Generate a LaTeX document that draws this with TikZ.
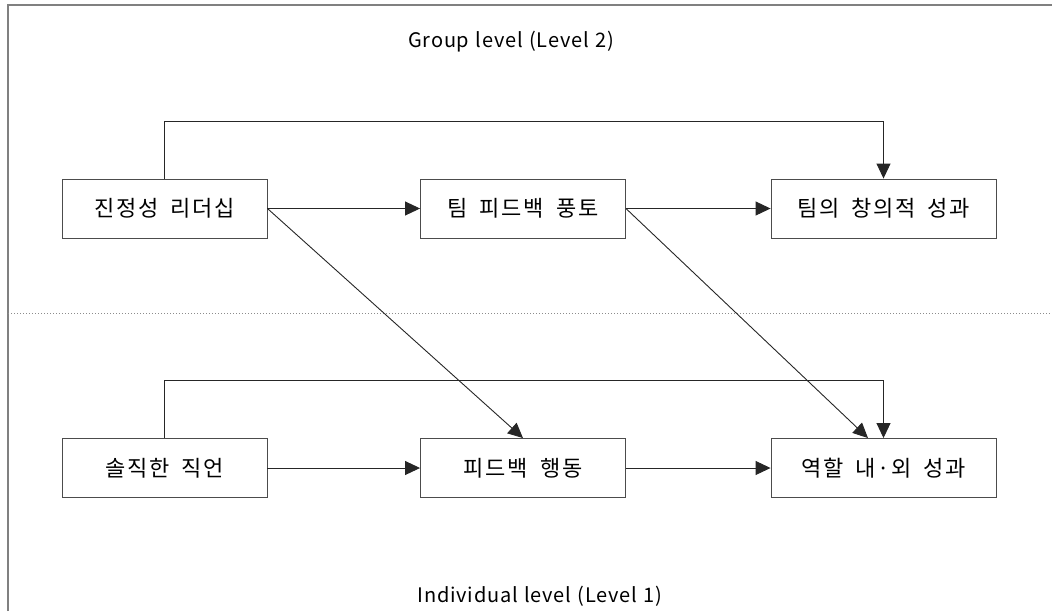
\documentclass[tikz,border=0pt]{standalone}
\usepackage{fontspec}
\setmainfont{Noto Sans CJK KR}[LetterSpace=8,WordSpace=1.8]
\newfontfamily\lvlfont{Noto Sans CJK KR}[LetterSpace=4,WordSpace=1.2]
\usetikzlibrary{arrows.meta}
\tikzset{
  box/.style={draw=black!70, line width=0.9pt, minimum width=205pt, minimum height=59pt, inner sep=0pt, font=\fontsize{22}{26}\selectfont},
  wbox/.style={box, minimum width=225pt},
  conn/.style={draw=black!85, line width=0.9pt, -{Triangle[length=15pt,width=14pt]}},
  lvl/.style={font=\lvlfont\fontsize{20}{24}\selectfont, inner sep=0pt}
}
\begin{document}
\begin{tikzpicture}[x=1pt,y=-1pt]
\useasboundingbox (0,0) rectangle (1052,611);
\draw[black!50, line width=2pt] (8,611) -- (8,5) -- (1052,5);
\draw[black!45, line width=1pt, dotted] (8,313) -- (1052,313);
\node[lvl] (g) at (511,42) {Group level (Level 2)};
\node[lvl] (i) at (540,596) {Individual level (Level 1)};
\node[box] (a) at (164.5,208.5) {진정성 리더십};
\node[box] (b) at (523,208.5) {팀 피드백 풍토};
\node[wbox] (c) at (883.5,208.5) {팀의 창의적 성과};
\node[box] (d) at (164.5,468) {솔직한 직언};
\node[box] (e) at (523,468) {피드백 행동};
\node[wbox] (f) at (883.5,468) {역할 내·외 성과};
\draw[conn] (a) -- (b);
\draw[conn] (b) -- (c);
\draw[conn] (d) -- (e);
\draw[conn] (e) -- (f);
\draw[conn] (a.north) -- (164.5,121) -| (c.north);
\draw[conn] (d.north) -- (164.5,380) -| (f.north);
\draw[conn] (a.east) -- (e.north);
\draw[conn] (b.east) -- ([xshift=-15.5pt]f.north);
\end{tikzpicture}
\end{document}
